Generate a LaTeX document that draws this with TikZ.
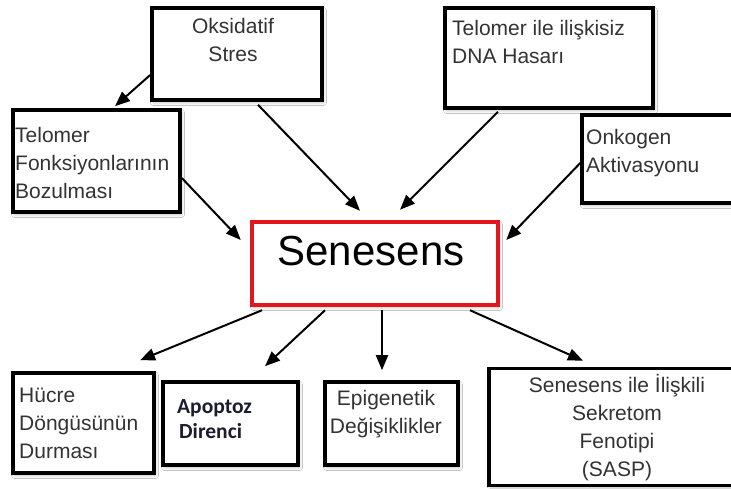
\documentclass[tikz,border=0pt]{standalone}
\usepackage{fontspec}
\setmainfont{Liberation Sans}
\newfontfamily\apofont{Carlito}
\usetikzlibrary{arrows.meta,shadows.blur}
\definecolor{txtgray}{HTML}{333333}
\definecolor{senred}{HTML}{E3161F}
\definecolor{apoblue}{HTML}{1C1C30}
\begin{document}
\begin{tikzpicture}[x=1pt,y=-1pt,
  box/.style={draw=black,line width=3.6pt,fill=white,minimum width=#1,inner sep=0pt,
    blur shadow={shadow xshift=1.5pt,shadow yshift=-2.5pt,shadow blur radius=3pt,shadow opacity=25}},
  txt/.style={inner sep=0pt,text=txtgray,font={\fontsize{21}{28}\selectfont}},
  arr/.style={line width=2pt,-{Triangle[length=15pt,width=12pt]}}]
\fill[white] (0,0) rectangle (731,488);
\useasboundingbox (0,0) rectangle (731,488);
% boxes
\node[box=170pt,minimum height=92pt] (oks) at (237,54) {};
\node[box=167pt,minimum height=102pt] (tel) at (96.5,161) {};
\node[box=208pt,minimum height=100pt] (dna) at (549,58) {};
\node[box=158pt,minimum height=88pt] (onk) at (661,159) {};
\node[draw=senred,line width=4.5pt,fill=white,minimum width=246pt,minimum height=83pt,inner sep=0pt,
  blur shadow={shadow xshift=1.5pt,shadow yshift=-2.5pt,shadow blur radius=3pt,shadow opacity=25}] (sen) at (375,263.5) {};
\node[box=141pt,minimum height=100pt] (huc) at (83.5,423) {};
\node[box=135pt,minimum height=83pt] (apo) at (230.5,423.5) {};
\node[box=133pt,minimum height=83pt] (epi) at (391.5,423.5) {};
\node[box=251pt,minimum height=117pt] (sasp) at (614.5,427) {};
% texts (anchor base = baseline of last line)
\node[txt,align=center,anchor=base] (toks) at (233,61) {Oksidatif\\Stres};
\node[txt,align=left,anchor=base west] (ttel) at (15,198) {Telomer\\Fonksiyonlarının\\Bozulması};
\node[txt,align=left,anchor=base west] (tdna) at (452,63) {Telomer ile ilişkisiz\\DNA Hasarı};
\node[txt,align=left,anchor=base west] (tonk) at (586,172) {Onkogen\\Aktivasyonu};
\node[inner sep=0pt,text=black,font={\fontsize{42}{48}\selectfont},anchor=base] (tsen) at (371,265) {Senesens};
\node[txt,align=left,anchor=base west] (thuc) at (19,458) {Hücre\\Döngüsünün\\Durması};
\node[inner sep=0pt,text=apoblue,align=left,anchor=base west,font={\apofont\bfseries\fontsize{21.5}{25}\selectfont}] (tapo) at (177,438) {Apoptoz\\\hspace*{2pt}Direnci};
\node[txt,align=center,anchor=base] (tepi) at (386,433) {Epigenetik\\Değişiklikler};
\node[txt,align=center,anchor=base] (tsasp) at (617,476) {Senesens ile İlişkili\\Sekretom\\Fenotipi\\(SASP)};
% arrows
\draw[arr] ([shift={(0,21)}]oks.west) -- ([shift={(18.5,-2)}]tel.north);
\draw[arr] ([shift={(21,3)}]oks.south) -- ([shift={(-15,-9)}]sen.north);
\draw[arr] ([shift={(0,17)}]tel.east) -- ([shift={(-9,-23.5)}]sen.west);
\draw[arr] ([shift={(-51,2)}]dna.south) -- ([shift={(25,-10)}]sen.north);
\draw[arr] ([shift={(1,3)}]onk.west) -- ([shift={(6,-23.5)}]sen.east);
\draw[arr] ([shift={(-113,3)}]sen.south) -- ([shift={(56.5,-11)}]huc.north);
\draw[arr] ([shift={(-50,3)}]sen.south) -- ([shift={(34.5,-14)}]apo.north);
\draw[arr] ([shift={(7,3)}]sen.south) -- ([shift={(-9.5,-10)}]epi.north);
\draw[arr] ([shift={(95,3)}]sen.south) -- ([shift={(-31.5,-6)}]sasp.north);
\end{tikzpicture}
\end{document}
